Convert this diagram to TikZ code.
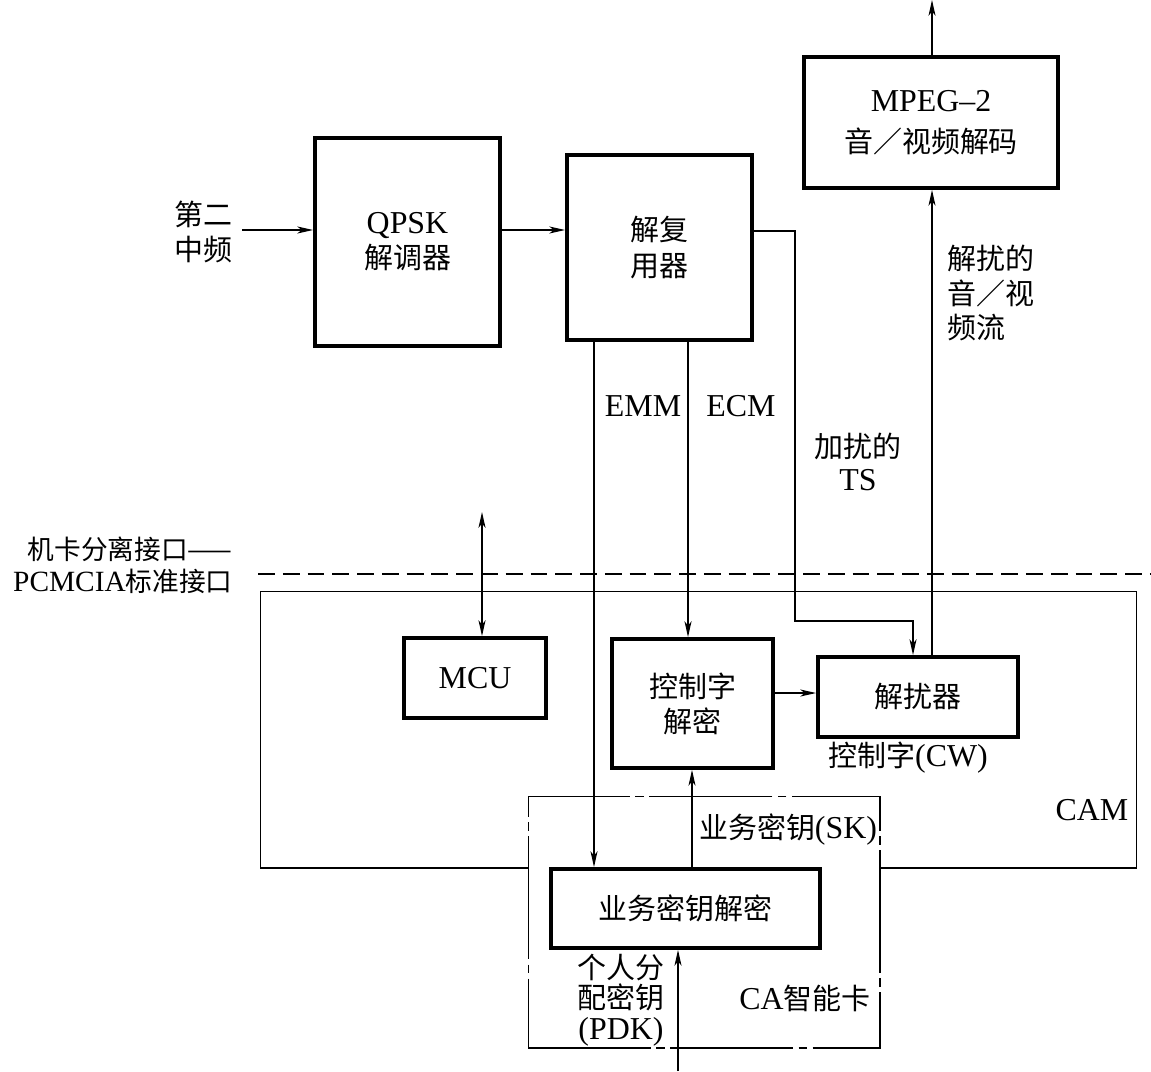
\documentclass[tikz,border=0pt]{standalone}
\usepackage{fontspec}
\setmainfont{Liberation Serif}[Scale=1.1]
\newfontfamily\cjk{Noto Sans CJK SC}
\usepackage{tikz}
\usetikzlibrary{arrows.meta}

\begin{document}
\begin{tikzpicture}[x=0.02cm, y=-0.02cm,
    every node/.style={font=\fontsize{16.5}{20}\selectfont},
    blk/.style={draw, line width=2.2pt, inner sep=0pt, align=center},
    lbl/.style={inner sep=0pt, align=center},
    tip/.tip={Stealth[length=9pt, width=4pt, inset=2.5pt]},
    conn/.style={line width=0.9pt, -tip},
    both/.style={line width=0.9pt, tip-tip},
    thin/.style={line width=0.6pt}]
    %
    \useasboundingbox (0,0) rectangle (1151,1071);
    %
    % CAM and smart card frames
    \node[draw, thin, minimum width=17.54cm, minimum height=5.54cm] (cam) at (698.5,729.5) {};
    \node[draw, thin, fill=white, dash pattern=on 70pt off 3pt on 5pt off 3pt,
          minimum width=7.04cm, minimum height=5.04cm] (card) at (704,922) {};
    \draw[thin, dash pattern=on 9.6pt off 4.5pt] (258,574) -- (1151,574);
    %
    % blocks
    \node[blk, minimum width=3.7cm, minimum height=4.16cm] (qpsk) at (407.5,242) {QPSK\\{\cjk 解调器}};
    \node[blk, minimum width=3.7cm, minimum height=3.7cm] (demux) at (659.5,247.5) {\cjk 解复\\\cjk 用器};
    \node[blk, minimum width=5.08cm, minimum height=2.62cm, font=\fontsize{16.5}{23}\selectfont] (mpeg) at (931,122.5) {MPEG\textendash 2\\{\cjk 音／视频解码}};
    \node[blk, minimum width=2.84cm, minimum height=1.6cm] (mcu) at (475,678) {MCU};
    \node[blk, minimum width=3.22cm, minimum height=2.58cm] (cw) at (692.5,703.5) {\cjk 控制字\\\cjk 解密};
    \node[blk, minimum width=4.0cm, minimum height=1.6cm] (dsc) at (918,697) {\cjk 解扰器};
    \node[blk, minimum width=5.38cm, minimum height=1.58cm] (sk) at (685.5,908.5) {\cjk 业务密钥解密};
    %
    % labels
    \node[lbl] (lin) at (203,232) {\cjk 第二\\\cjk 中频};
    \node[lbl, anchor=east, align=right, font=\fontsize{15.2}{18}\selectfont] (lpc) at (233,565) {{\cjk 机卡分离接口——}\\PCMCIA{\cjk 标准接口}};
    \node[lbl] (lemm) at (643,406) {EMM};
    \node[lbl] (lecm) at (741,406) {ECM};
    \node[lbl, font=\fontsize{16.5}{19}\selectfont] (lts) at (858,462) {{\cjk 加扰的}\\TS};
    \node[lbl, anchor=west, align=left, font=\fontsize{16.5}{19.6}\selectfont] (lav) at (947,293) {\cjk 解扰的\\\cjk 音／视\\\cjk 频流};
    \node[lbl] (lcw) at (908,758) {{\cjk 控制字}(CW)};
    \node[lbl] (lsk) at (788,830) {{\cjk 业务密钥}(SK)};
    \node[lbl] (lcam) at (1092,810) {CAM};
    \node[lbl] (lcard) at (805,998) {CA{\cjk 智能卡}};
    \node[lbl, font=\fontsize{16.5}{17.5}\selectfont] (lpdk) at (621,1000) {\cjk 个人分\\\cjk 配密钥\\(PDK)};
    %
    % connector columns and rows
    \coordinate (in) at (242,230);
    \coordinate (emm) at (594,0);
    \coordinate (ecm) at (688,0);
    \coordinate (tsy) at (0,231);
    \coordinate (tsbend) at (795,621);
    \coordinate (tsx) at (913,0);
    \coordinate (av) at (932,0);
    \coordinate (cwy) at (0,693);
    \coordinate (pc) at (482,512);
    \coordinate (skx) at (692,0);
    \coordinate (pdk) at (678,1071);
    %
    \draw[conn] (in) -- (in -| qpsk.west);
    \draw[conn] (qpsk.east |- in) -- (demux.west |- in);
    \draw[conn] (demux.south -| emm) -- (sk.north -| emm);
    \draw[conn] (demux.south -| ecm) -- (cw.north -| ecm);
    \draw[conn] (demux.east |- tsy) -| (tsbend) -| (dsc.north -| tsx);
    \draw[conn, thin] (dsc.north -| av) -- (mpeg.south -| av);
    \draw[conn, thin] (mpeg.north -| av) -- (av);
    \draw[conn] (cw.east |- cwy) -- (dsc.west |- cwy);
    \draw[both] (pc) -- (pc |- mcu.north);
    \draw[conn, thin] (sk.north -| skx) -- (cw.south -| skx);
    \draw[conn, thin] (pdk) -- (pdk |- sk.south);
    %
\end{tikzpicture}
\end{document}
